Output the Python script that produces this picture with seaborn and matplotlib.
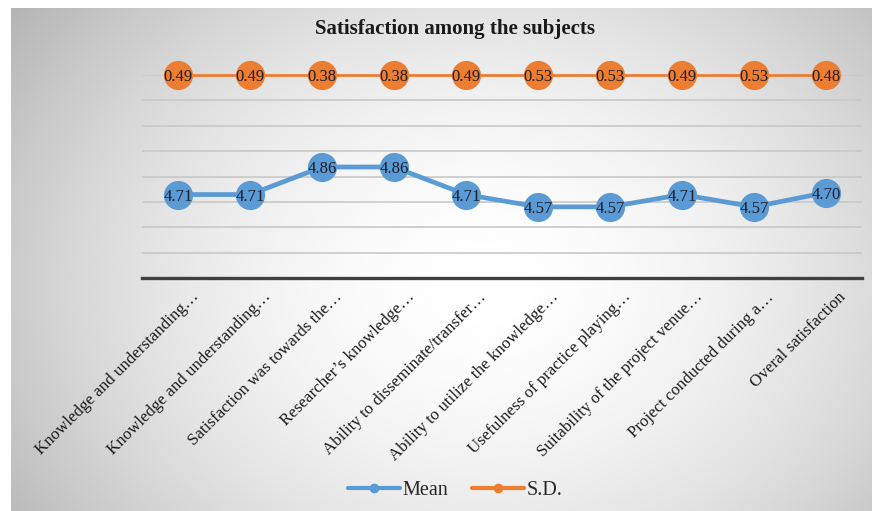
import numpy as np
import pandas as pd
import matplotlib
matplotlib.use("Agg")
import matplotlib.pyplot as plt
import matplotlib.transforms as mtransforms
from matplotlib.lines import Line2D
import seaborn as sns

# Survey items (truncated as shown on the axis)
categories = [
    "Knowledge and understanding…",
    "Knowledge and understanding…",
    "Satisfaction was towards the…",
    "Researcher’s knowledge…",
    "Ability to disseminate/transfer…",
    "Ability to utilize the knowledge…",
    "Usefulness of practice playing…",
    "Suitability of the project venue…",
    "Project conducted during a…",
    "Overal satisfaction",
]
mean_values = [4.71, 4.71, 4.86, 4.86, 4.71, 4.57, 4.57, 4.71, 4.57, 4.70]
sd_values = [0.49, 0.49, 0.38, 0.38, 0.49, 0.53, 0.53, 0.49, 0.53, 0.48]
series_names = ["Mean", "S.D."]

# 100% stacked line layout: each series plotted as its cumulative share
df = pd.DataFrame({"item": categories, "mean": mean_values, "sd": sd_values})
df["pos"] = np.arange(len(df))
total = df["mean"] + df["sd"]
df["mean_share"] = df["mean"] / total
df["sd_share"] = (df["mean"] + df["sd"]) / total

sns.set_theme(style="white")
plt.rcParams["font.family"] = ["Liberation Serif", "DejaVu Serif"]

W, H = 872, 511
fig = plt.figure(figsize=(W / 100, H / 100), dpi=100)
fig.patch.set_facecolor("white")

# Soft radial backdrop of the chart area
bg = fig.add_axes([11 / W, 0, 1 - 11 / W, 1 - 8 / H])
yy, xx = np.mgrid[0:1:300j, 0:1:500j]
r = np.sqrt(((xx - 0.55) / 0.62) ** 2 + ((yy - 0.55) / 0.85) ** 2)
shade = 1 - 0.25 * np.clip(r, 0, 1.2) ** 1.8
bg.imshow(shade, cmap="gray", vmin=0, vmax=1, aspect="auto",
          extent=[0, 1, 0, 1], interpolation="bicubic")
bg.axis("off")

ax = fig.add_axes([142 / W, 1 - 278 / H, 720 / W, (278 - 75) / H])
ax.set_zorder(2)
ax.set_facecolor("none")

blue = "#5B9BD5"
orange = "#ED7D31"

sns.lineplot(data=df, x="pos", y="sd_share", ax=ax, color=orange, lw=2.0,
             marker="o", markersize=21, markeredgewidth=0, clip_on=False,
             zorder=3)
sns.lineplot(data=df, x="pos", y="mean_share", ax=ax, color=blue, lw=3.4,
             marker="o", markersize=21, markeredgewidth=0, clip_on=False,
             zorder=3)

for x, y, v in zip(df["pos"], df["sd_share"], df["sd"]):
    ax.text(x, y, f"{v:.2f}", ha="center", va="center_baseline",
            fontsize=12, color="#1c1c28", zorder=5)
for x, y, v in zip(df["pos"], df["mean_share"], df["mean"]):
    ax.text(x, y, f"{v:.2f}", ha="center", va="center_baseline",
            fontsize=12, color="#1c1c28", zorder=5)

ax.set_xlim(-0.5, len(df) - 0.5)
ax.set_ylim(0.84, 1.00)
ax.set_yticks(np.arange(0.86, 1.001, 0.02))
ax.yaxis.grid(True, color="#c8c8c8", lw=1.2)
ax.tick_params(axis="y", length=0, labelleft=False)
ax.set_xlabel("")
ax.set_ylabel("")
for side in ["left", "right", "top"]:
    ax.spines[side].set_visible(False)
ax.spines["bottom"].set_color("#404040")
ax.spines["bottom"].set_linewidth(2.4)

ax.set_xticks(df["pos"])
ax.set_xticklabels(df["item"], rotation=45, ha="right", va="center",
                   rotation_mode="anchor", fontsize=12.2, color="#1a1a1a")
ax.tick_params(axis="x", length=0, pad=12)
offset = mtransforms.ScaledTranslation(18 / 100, 0, fig.dpi_scale_trans)
for lbl in ax.get_xticklabels():
    lbl.set_transform(lbl.get_transform() + offset)

fig.text(455 / W, 1 - 29 / H, "Satisfaction among the subjects",
         ha="center", va="center", fontsize=15, fontweight="bold",
         color="#1a1a1a")

handles = [
    Line2D([], [], color=blue, lw=3, marker="o", markersize=6),
    Line2D([], [], color=orange, lw=3, marker="o", markersize=6),
]
fig.legend(handles, series_names, loc="center", ncol=2,
           bbox_to_anchor=(455 / W, 1 - 490 / H), frameon=False,
           fontsize=14.5, handlelength=2.6, handletextpad=0.1,
           columnspacing=1.2)

fig.savefig("out.png", dpi=100, facecolor=fig.get_facecolor())
